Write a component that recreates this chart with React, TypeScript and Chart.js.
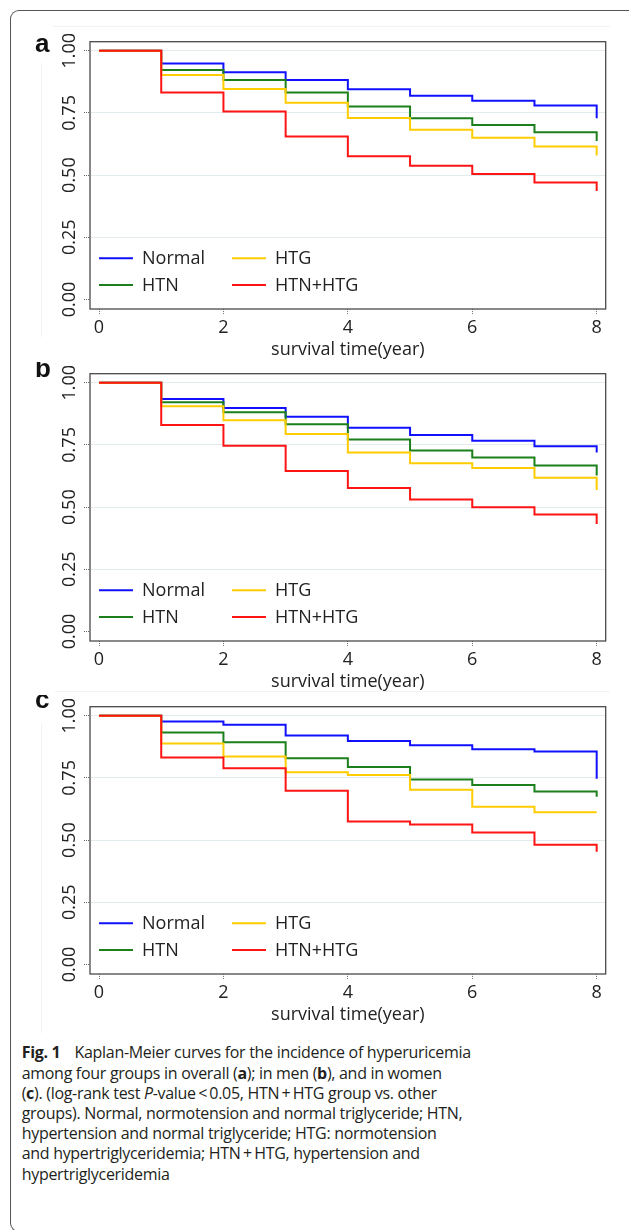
import React, { useEffect, useRef } from 'react';
import { Chart, registerables } from 'chart.js';

Chart.register(...registerables);

// ---------- data ----------
const years = [0, 1, 2, 3, 4, 5, 6, 7, 8];
const seriesNames = ['Normal', 'HTN', 'HTG', 'HTN+HTG'];
const seriesColors = ['#1010ff', '#1b801b', '#ffcc00', '#ff1414'];

// panel a: overall
const overallNormal = [1, 0.948, 0.913, 0.882, 0.845, 0.819, 0.799, 0.78, 0.728];
const overallHTN = [1, 0.922, 0.882, 0.832, 0.776, 0.728, 0.701, 0.672, 0.637];
const overallHTG = [1, 0.902, 0.846, 0.791, 0.729, 0.682, 0.65, 0.615, 0.579];
const overallBoth = [1, 0.832, 0.756, 0.655, 0.576, 0.538, 0.504, 0.47, 0.436];

// panel b: men
const menNormal = [1, 0.934, 0.898, 0.863, 0.819, 0.79, 0.767, 0.744, 0.719];
const menHTN = [1, 0.921, 0.881, 0.833, 0.772, 0.727, 0.699, 0.667, 0.627];
const menHTG = [1, 0.905, 0.849, 0.794, 0.719, 0.676, 0.657, 0.618, 0.569];
const menBoth = [1, 0.83, 0.747, 0.645, 0.577, 0.531, 0.499, 0.47, 0.432];

// panel c: women
const womenNormal = [1, 0.977, 0.963, 0.92, 0.898, 0.881, 0.865, 0.856, 0.747];
const womenHTN = [1, 0.932, 0.893, 0.829, 0.794, 0.743, 0.721, 0.695, 0.674];
const womenHTG = [1, 0.888, 0.836, 0.773, 0.762, 0.702, 0.634, 0.612, 0.612];
const womenBoth = [1, 0.832, 0.789, 0.698, 0.575, 0.563, 0.531, 0.481, 0.453];

const xTicks = [0, 2, 4, 6, 8];
const yTicks = [0, 0.25, 0.5, 0.75, 1];
const yTickLabels = ['0.00', '0.25', '0.50', '0.75', '1.00'];
const xTitle = 'survival time(year)';
const panelLetters = ['a', 'b', 'c'];

const FONT = '"Open Sans", "Noto Sans", sans-serif';
const TEXT = '#222';

const panels = [
  { top: 30, letter: panelLetters[0], letterBaseline: 51.5, series: [overallNormal, overallHTN, overallHTG, overallBoth] },
  { top: 361.6, letter: panelLetters[1], letterBaseline: 376.5, series: [menNormal, menHTN, menHTG, menBoth] },
  { top: 695, letter: panelLetters[2], letterBaseline: 708.3, series: [womenNormal, womenHTN, womenHTG, womenBoth] },
];

const CANVAS_H = 332;

function KMPanel({ top, letter, letterBaseline, series }: any) {
  const ref = useRef<HTMLCanvasElement>(null);
  useEffect(() => {
    const boxPlugin = {
      id: 'box',
      beforeDatasetsDraw(chart: any) {
        const { ctx, chartArea: a } = chart;
        ctx.save();
        ctx.strokeStyle = '#4a4a4a';
        ctx.lineWidth = 1.3;
        ctx.strokeRect(a.left, a.top, a.right - a.left, a.bottom - a.top);
        ctx.restore();
      },
    };
    const yLabelPlugin = {
      id: 'ylabels',
      afterDraw(chart: any) {
        const { ctx } = chart;
        const ys = chart.scales.y;
        ctx.save();
        ctx.fillStyle = TEXT;
        ctx.font = `18px ${FONT}`;
        ctx.textAlign = 'center';
        ctx.textBaseline = 'alphabetic';
        yTicks.forEach((v, i) => {
          const py = ys.getPixelForValue(v);
          ctx.save();
          ctx.translate(68, py);
          ctx.rotate(-Math.PI / 2);
          ctx.fillText(yTickLabels[i], 0, 7.3);
          ctx.restore();
        });
        ctx.restore();
      },
    };
    const legendPlugin = {
      id: 'kmlegend',
      afterDatasetsDraw(chart: any) {
        const { ctx, chartArea: a } = chart;
        ctx.save();
        ctx.font = `18px ${FONT}`;
        ctx.textBaseline = 'middle';
        ctx.textAlign = 'left';
        chart.data.datasets.forEach((ds: any, i: number) => {
          const col = Math.floor(i / 2);
          const row = i % 2;
          const x0 = a.left + 9 + col * 133;
          const y = a.bottom - 50.7 + row * 26.7;
          ctx.strokeStyle = ds.borderColor;
          ctx.lineWidth = 2;
          ctx.beginPath();
          ctx.moveTo(x0, y);
          ctx.lineTo(x0 + 34, y);
          ctx.stroke();
          ctx.fillStyle = TEXT;
          ctx.fillText(ds.label, x0 + 43, y + 1);
        });
        ctx.restore();
      },
    };
    const letterPlugin = {
      id: 'letter',
      afterDraw(chart: any) {
        const { ctx } = chart;
        ctx.save();
        ctx.fillStyle = '#111';
        ctx.font = 'bold 26px "Liberation Sans", Arial, sans-serif';
        ctx.textBaseline = 'alphabetic';
        ctx.fillText(letter, 35, letterBaseline - top);
        ctx.restore();
      },
    };

    const chart = new Chart(ref.current as HTMLCanvasElement, {
      type: 'line',
      data: {
        datasets: seriesNames.map((name, i) => ({
          label: name,
          data: years.map((x, j) => ({ x, y: series[i][j] })),
          borderColor: seriesColors[i],
          backgroundColor: seriesColors[i],
          borderWidth: 2,
          pointRadius: 0,
          stepped: true,
          fill: false,
          order: 3 - i,
        })),
      },
      options: {
        responsive: false,
        animation: false,
        events: [],
        layout: { padding: { left: 0, right: 23.3, top: 11.7, bottom: 0 } },
        plugins: {
          legend: { display: false },
          tooltip: { enabled: false },
          title: { display: false },
        },
        scales: {
          x: {
            type: 'linear',
            min: -0.145,
            max: 8.145,
            afterBuildTicks: (s: any) => {
              s.ticks = xTicks.map((v) => ({ value: v }));
            },
            afterFit: (s: any) => {
              s.height = CANVAS_H - 279;
            },
            border: { display: false },
            grid: {
              drawOnChartArea: false,
              drawTicks: true,
              tickLength: 6,
              tickColor: '#777',
              tickWidth: 1,
              tickBorderDash: [1, 1],
            },
            ticks: {
              font: { family: FONT, size: 18 },
              color: TEXT,
              padding: 2,
              maxRotation: 0,
              autoSkip: false,
              callback: (v: any) => String(v),
            },
            title: {
              display: true,
              text: xTitle,
              font: { family: FONT, size: 18, lineHeight: 1.2 },
              color: TEXT,
              padding: { top: 0, bottom: 1.2 },
            },
          },
          y: {
            type: 'linear',
            min: -0.038,
            max: 1.036,
            afterBuildTicks: (s: any) => {
              s.ticks = yTicks.map((v) => ({ value: v }));
            },
            afterFit: (s: any) => {
              s.width = 90;
            },
            border: { display: false },
            grid: {
              color: (c: any) => (c.tick && c.tick.value === 0 ? 'rgba(0,0,0,0)' : '#e2ebee'),
              lineWidth: 1,
              drawTicks: true,
              tickLength: 6,
              tickColor: '#666',
              tickWidth: 1,
              tickBorderDash: [1, 1],
            },
            ticks: { display: false },
          },
        },
      } as any,
      plugins: [boxPlugin, yLabelPlugin, legendPlugin, letterPlugin],
    });
    return () => chart.destroy();
  }, []);
  return (
    <canvas
      ref={ref}
      width={629}
      height={CANVAS_H}
      style={{ position: 'absolute', left: 0, top, width: 629, height: CANVAS_H }}
    />
  );
}

const captionLines: React.ReactNode[] = [
  <>
    <b style={{ marginRight: 14 }}>Fig. 1</b>Kaplan-Meier curves for the incidence of hyperuricemia
  </>,
  <>
    among four groups in overall (<b>a</b>); in men (<b>b</b>), and in women
  </>,
  <>
    (<b>c</b>). (log-rank test <i>P</i>-value{'\u2009'}&lt;{'\u2009'}0.05, HTN{'\u2009'}+{'\u2009'}HTG group vs. other
  </>,
  <>groups). Normal, normotension and normal triglyceride; HTN,</>,
  <>hypertension and normal triglyceride; HTG: normotension</>,
  <>and hypertriglyceridemia; HTN{'\u2009'}+{'\u2009'}HTG, hypertension and</>,
  <>hypertriglyceridemia</>,
];

export default function App() {
  return (
    <div style={{ position: 'absolute', left: 0, top: 0, width: 629, height: 1230, overflow: 'hidden', background: '#fff' }}>
      <div
        style={{
          position: 'absolute',
          left: 9.5,
          top: 9.5,
          width: 626,
          height: 1222,
          borderTop: '1.5px solid #555',
          borderLeft: '1.5px solid #555',
          borderBottom: '1.5px solid #555',
          borderTopLeftRadius: 9,
          borderBottomLeftRadius: 9,
          boxSizing: 'border-box',
        }}
      />
      {/* faint outer graph-region lines */}
      <div style={{ position: 'absolute', left: 53, top: 26, width: 557, height: 1, background: '#eef3f3' }} />
      <div style={{ position: 'absolute', left: 41, top: 63, width: 1, height: 274, background: '#eef3f3' }} />
      <div style={{ position: 'absolute', left: 55, top: 691, width: 555, height: 1, background: '#eef3f3' }} />
      <div style={{ position: 'absolute', left: 41, top: 723, width: 1, height: 310, background: '#eef3f3' }} />
      {panels.map((p, i) => (
        <KMPanel key={i} {...p} />
      ))}
      <div
        style={{
          position: 'absolute',
          left: 21.7,
          top: 1042.4,
          fontFamily: FONT,
          fontSize: 16,
          letterSpacing: -0.3,
          lineHeight: '20.2px',
          color: '#231f20',
        }}
      >
        {captionLines.map((l, i) => (
          <div key={i} style={{ whiteSpace: 'nowrap' }}>
            {l}
          </div>
        ))}
      </div>
    </div>
  );
}
